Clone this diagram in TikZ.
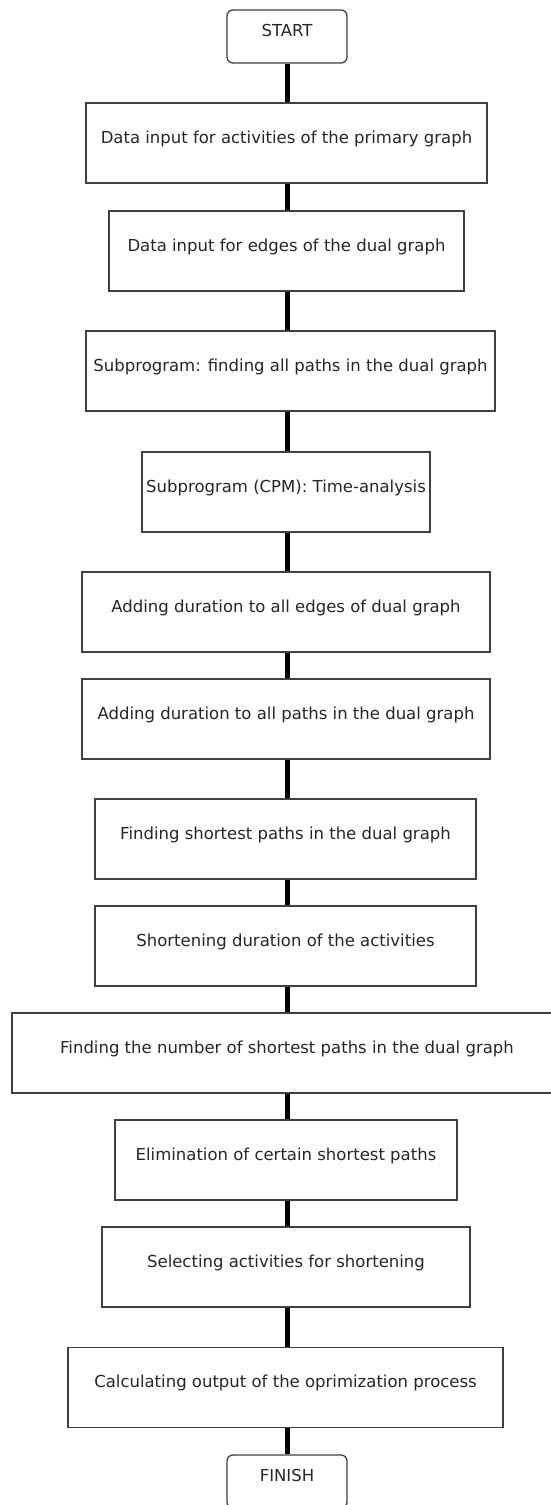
\documentclass[tikz,border=0pt]{standalone}
\usepackage{fontspec}
\setmainfont{DejaVu Sans}
\begin{document}
\begin{tikzpicture}[x=1pt,y=-1pt,
  box/.style={draw=black!75, line width=1.3pt, fill=white, inner sep=0pt, minimum height=80pt,
    text height=0pt, text depth=0pt, text=black!85, font=\fontsize{16.5}{20}\selectfont},
  term/.style={box, rounded corners=6pt, minimum width=120pt, minimum height=53pt},
  link/.style={line width=5pt, draw=black}]
\useasboundingbox (0,0) rectangle (551,1505);
\coordinate (sp) at (287,0);
\node[term] (start) at (287,36.5) {START};
\node[box, minimum width=401pt] (b1) at (286.5,143) {Data input for activities of the primary graph};
\node[box, minimum width=355pt] (b2) at (286.5,251) {Data input for edges of the dual graph};
\node[box, minimum width=409pt] (b3) at (290.5,371) {Subprogram: finding all paths in the dual graph};
\node[box, minimum width=288pt] (b4) at (286,492) {Subprogram (CPM): Time-analysis};
\node[box, minimum width=408pt] (b5) at (286,612) {Adding duration to all edges of dual graph};
\node[box, minimum width=408pt] (b6) at (286,719) {Adding duration to all paths in the dual graph};
\node[box, minimum width=381pt] (b7) at (285.5,839) {Finding shortest paths in the dual graph};
\node[box, minimum width=381pt] (b8) at (285.5,946) {Shortening duration of the activities};
\node[box, minimum width=550pt] (b9) at (287,1053) {Finding the number of shortest paths in the dual graph};
\node[box, minimum width=342pt] (b10) at (286,1160) {Elimination of certain shortest paths};
\node[box, minimum width=368pt] (b11) at (286,1267) {Selecting activities for shortening};
\node[box, minimum width=435pt] (b12) at (285.5,1387.5) {Calculating output of the oprimization process};
\node[term] (finish) at (287,1481.5) {FINISH};
\foreach \a/\b in {start/b1,b1/b2,b2/b3,b3/b4,b4/b5,b5/b6,b6/b7,b7/b8,b8/b9,b9/b10,b10/b11,b11/b12,b12/finish}
  \draw[link] (\a.south -| sp) -- (\b.north -| sp);
\end{tikzpicture}
\end{document}
